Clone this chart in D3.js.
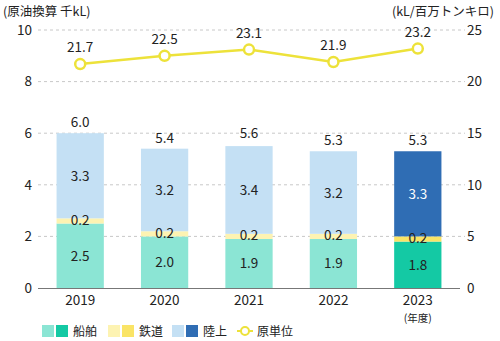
<!DOCTYPE html>
<html><head><meta charset="utf-8">
<script src="https://cdn.jsdelivr.net/npm/d3@7"></script>
<style>body{margin:0;background:#fff}svg{display:block}text{font-family:"Noto Sans CJK JP","Noto Sans",sans-serif;fill:#222}</style>
</head><body><svg id="c" width="500" height="341"></svg>
<script>
const years = ["2019","2020","2021","2022","2023"];
const ship = [2.5,2.0,1.9,1.9,1.8];
const rail = [0.2,0.2,0.2,0.2,0.2];
const land = [3.3,3.2,3.4,3.2,3.3];
const totals = [6.0,5.4,5.6,5.3,5.3];
const intensity = [21.7,22.5,23.1,21.9,23.2];
const leftTicks = [0,2,4,6,8,10];
const rightTicks = [0,5,10,15,20,25];

const svg = d3.select("#c");
const x = d3.scaleBand().domain(years).range([38,460]).paddingInner(0.44).paddingOuter(0.22);
const y = d3.scaleLinear().domain([0,10]).range([288,30]);
const y2 = d3.scaleLinear().domain([0,25]).range([288,30]);

const lightCol = {ship:"#8be5d4",rail:"#fdf3b2",land:"#c4e0f4"};
const darkCol = {ship:"#14c9a4",rail:"#fae466",land:"#2f6db4"};

// grid
svg.append("g").selectAll("line").data(leftTicks.filter(d=>d>0)).join("line")
  .attr("x1",38).attr("x2",465).attr("y1",d=>y(d)).attr("y2",d=>y(d))
  .attr("stroke","#c8c8c8").attr("stroke-dasharray","3,3");

// axes
const la = svg.append("g").attr("transform","translate(38,0)")
  .call(d3.axisLeft(y).tickValues(leftTicks).tickSize(0).tickPadding(6));
la.select(".domain").remove();
la.selectAll("text").attr("font-size",13.5).attr("font-family","'Noto Sans CJK JP'").attr("fill","#222");
const ra = svg.append("g").attr("transform","translate(466,0)")
  .call(d3.axisRight(y2).tickValues(rightTicks).tickSize(0).tickPadding(1));
ra.select(".domain").remove();
ra.selectAll("text").attr("font-size",13.5).attr("font-family","'Noto Sans CJK JP'").attr("fill","#222");

// bars
const rows = years.map((yr,i)=>({yr,i,segs:[
  {k:"ship",v:ship[i],y0:0},
  {k:"rail",v:rail[i],y0:ship[i]},
  {k:"land",v:land[i],y0:ship[i]+rail[i]}]}));
rows.forEach(r=>{
  const dark = r.i===years.length-1;
  const g = svg.append("g");
  g.selectAll("rect").data(r.segs).join("rect")
    .attr("x",x(r.yr)).attr("width",x.bandwidth())
    .attr("y",d=>y(d.y0+d.v)).attr("height",d=>y(d.y0)-y(d.y0+d.v))
    .attr("fill",d=>(dark?darkCol:lightCol)[d.k]);
  g.selectAll("text.v").data(r.segs).join("text").attr("class","v")
    .attr("x",x(r.yr)+x.bandwidth()/2)
    .attr("y",d=>y(d.y0+d.v/2)+ (d.k==="rail"?4:5))
    .attr("text-anchor","middle").attr("font-size",13.5)
    .style("fill",d=>(dark&&d.k==="land")?"#fff":"#222")
    .text(d=>d.v.toFixed(1));
  g.append("text").attr("x",x(r.yr)+x.bandwidth()/2).attr("y",y(totals[r.i])-6)
    .attr("text-anchor","middle").attr("font-size",13.5).text(totals[r.i].toFixed(1));
});

// baseline
svg.append("line").attr("x1",38).attr("x2",460).attr("y1",288.5).attr("y2",288.5)
  .attr("stroke","#777").attr("stroke-width",1);

// x labels
svg.append("g").selectAll("text").data(years).join("text")
  .attr("x",d=>x(d)+x.bandwidth()/2).attr("y",305).attr("text-anchor","middle")
  .attr("font-size",13.5).text(d=>d);
svg.append("text").attr("x",x("2023")+x.bandwidth()/2).attr("y",322).attr("text-anchor","middle")
  .attr("font-size",10.5).text("(年度)");

// line
const line = d3.line().x((d,i)=>x(years[i])+x.bandwidth()/2).y(d=>y2(d));
svg.append("path").datum(intensity).attr("d",line).attr("fill","none")
  .attr("stroke","#ede23a").attr("stroke-width",2.5);
svg.append("g").selectAll("circle").data(intensity).join("circle")
  .attr("cx",(d,i)=>x(years[i])+x.bandwidth()/2).attr("cy",d=>y2(d)).attr("r",5)
  .attr("fill","#fff").attr("stroke","#ede23a").attr("stroke-width",2.5);
svg.append("g").selectAll("text").data(intensity).join("text")
  .attr("x",(d,i)=>x(years[i])+x.bandwidth()/2).attr("y",d=>y2(d)-12)
  .attr("text-anchor","middle").attr("font-size",13.5).text(d=>d.toFixed(1));

// titles
svg.append("text").attr("x",3).attr("y",16).attr("font-size",12.5).text("(原油換算 千kL)");
svg.append("text").attr("x",494).attr("y",16).attr("text-anchor","end").attr("font-size",12.5).text("(kL/百万トンキロ)");

// legend
const leg = [{k:"ship",t:"船舶",x:42},{k:"rail",t:"鉄道",x:108},{k:"land",t:"陸上",x:172}];
leg.forEach(l=>{
  svg.append("rect").attr("x",l.x).attr("y",325).attr("width",12).attr("height",12).attr("fill",lightCol[l.k]);
  svg.append("rect").attr("x",l.x+14).attr("y",325).attr("width",12).attr("height",12).attr("fill",darkCol[l.k]);
  svg.append("text").attr("x",l.x+31).attr("y",335.5).attr("font-size",12).text(l.t);
});
svg.append("line").attr("x1",237).attr("x2",253).attr("y1",331).attr("y2",331).attr("stroke","#ede23a").attr("stroke-width",2);
svg.append("circle").attr("cx",245).attr("cy",331).attr("r",4).attr("fill","#fff").attr("stroke","#ede23a").attr("stroke-width",2);
svg.append("text").attr("x",257).attr("y",335.5).attr("font-size",12).text("原単位");
</script></body></html>
